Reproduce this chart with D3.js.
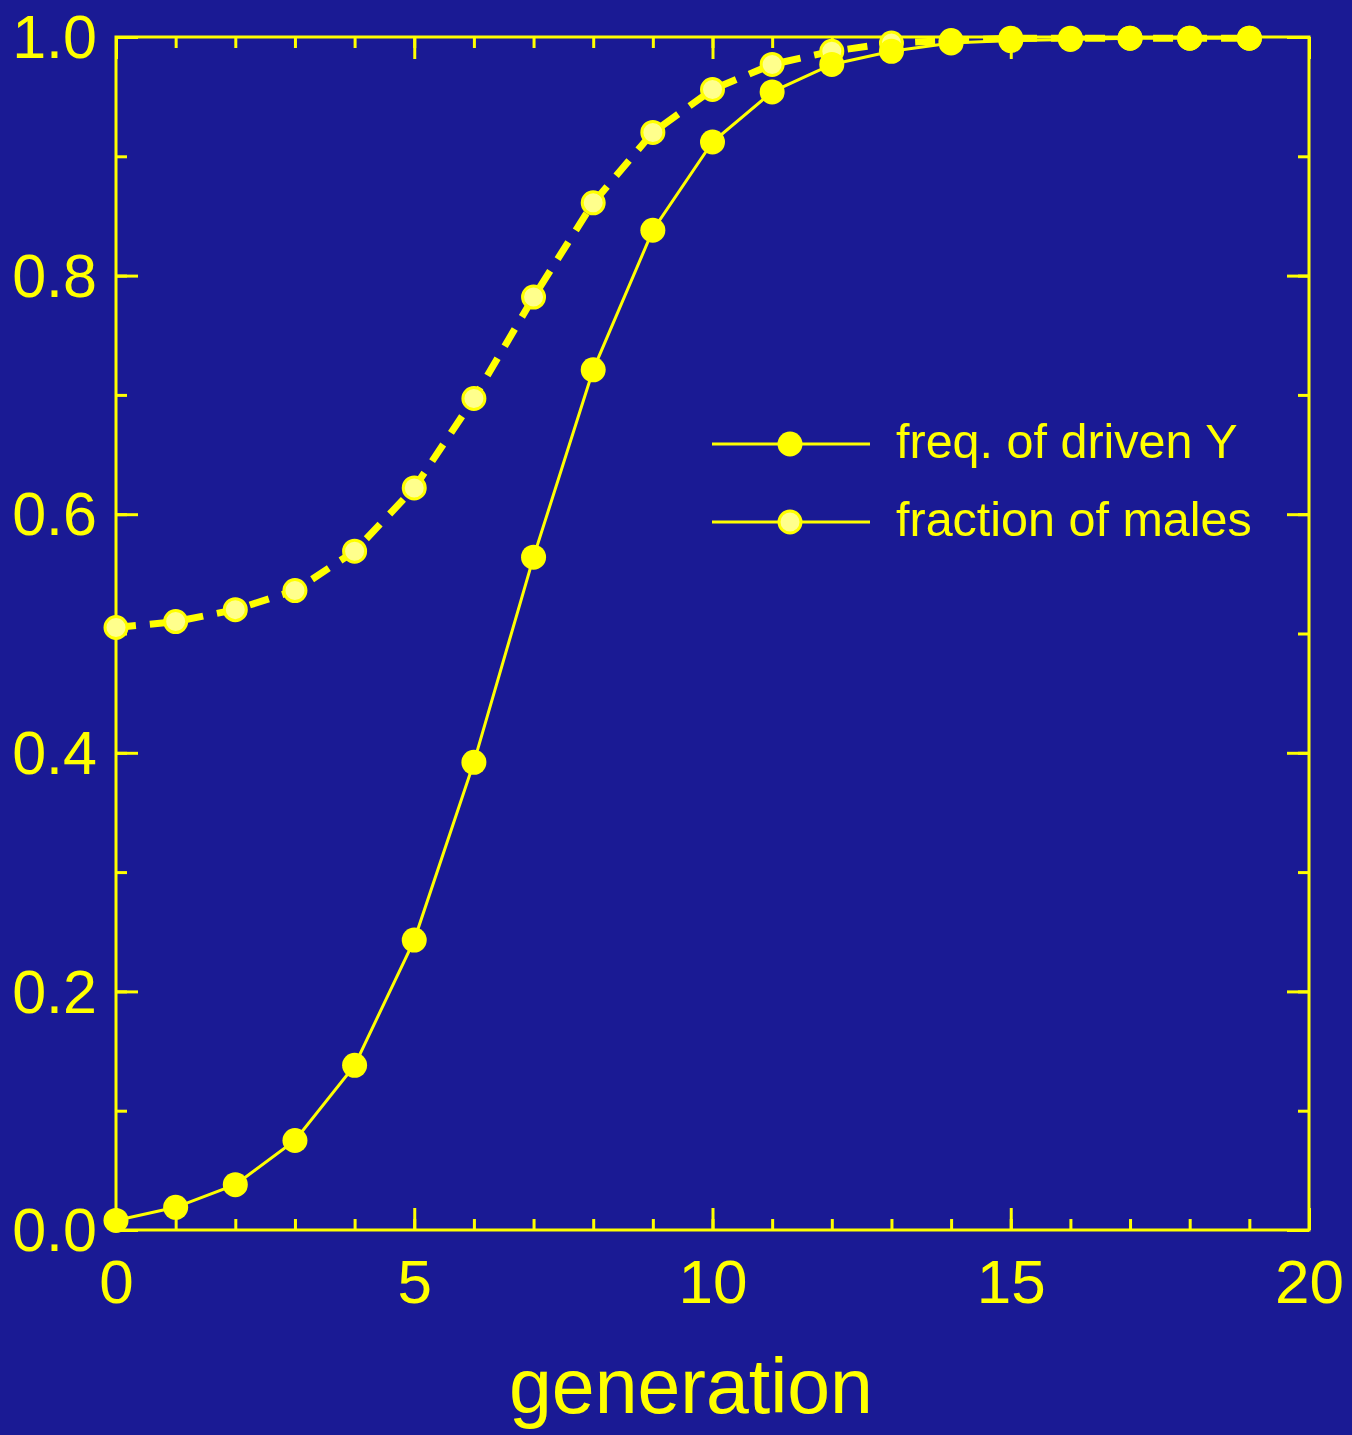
<!DOCTYPE html>
<html>
<head>
<meta charset="utf-8">
<script src="https://cdn.jsdelivr.net/npm/d3@7.9.0/dist/d3.min.js"></script>
<style>
  html, body { margin: 0; padding: 0; background: #1a1a94; }
  svg text { font-family: "Liberation Sans", Arial, sans-serif; fill: #ffff00; }
</style>
</head>
<body>
<svg id="chart" width="1352" height="1435"></svg>
<script>
// data
const generations = d3.range(0, 20);
const drivenY = [0.008, 0.019, 0.038, 0.075, 0.138, 0.243, 0.392, 0.564, 0.721, 0.838,
                 0.912, 0.954, 0.977, 0.988, 0.995, 0.997, 0.998, 0.999, 0.999, 0.999];
const males = [0.505, 0.510, 0.520, 0.536, 0.569, 0.622, 0.697, 0.782, 0.861, 0.920,
               0.956, 0.977, 0.988, 0.995, 0.997, 0.999, 0.999, 0.999, 0.999, 0.999];
const xTicks = [0, 5, 10, 15, 20];
const yTicks = [0, 0.2, 0.4, 0.6, 0.8, 1.0];
const legendLabels = ["freq. of driven Y", "fraction of males"];

const yellow = "#ffff00";
const paleYellow = "#ffff8c";

const svg = d3.select("#chart");
const plotL = 116, plotR = 1309, plotT = 37, plotB = 1230;

const x = d3.scaleLinear().domain([0, 20]).range([plotL, plotR]);
const y = d3.scaleLinear().domain([0, 1]).range([plotB, plotT]);

// axes on all four sides, ticks pointing inward
function styleAxis(g) {
  g.select(".domain").remove();
  g.selectAll(".tick line").attr("stroke", yellow).attr("stroke-width", 3);
}

const minorX = d3.range(0, 21);
const minorY = d3.range(0, 11).map(d => d / 10);

// minor ticks
svg.append("g").attr("transform", `translate(0,${plotB})`)
  .call(d3.axisBottom(x).tickValues(minorX).tickSize(-11).tickFormat(""))
  .call(styleAxis);
svg.append("g").attr("transform", `translate(0,${plotT})`)
  .call(d3.axisTop(x).tickValues(minorX).tickSize(-11).tickFormat(""))
  .call(styleAxis);
svg.append("g").attr("transform", `translate(${plotL},0)`)
  .call(d3.axisLeft(y).tickValues(minorY).tickSize(-11).tickFormat(""))
  .call(styleAxis);
svg.append("g").attr("transform", `translate(${plotR},0)`)
  .call(d3.axisRight(y).tickValues(minorY).tickSize(-11).tickFormat(""))
  .call(styleAxis);

// major ticks + labels
svg.append("g").attr("transform", `translate(0,${plotB})`)
  .call(d3.axisBottom(x).tickValues(xTicks).tickSize(-22).tickPadding(29).tickFormat(d3.format("d")))
  .call(styleAxis)
  .call(g => g.selectAll("text").attr("font-size", 62).attr("dy", "0.71em"));
svg.append("g").attr("transform", `translate(0,${plotT})`)
  .call(d3.axisTop(x).tickValues(xTicks).tickSize(-22).tickFormat(""))
  .call(styleAxis);
svg.append("g").attr("transform", `translate(${plotL},0)`)
  .call(d3.axisLeft(y).tickValues(yTicks).tickSize(-22).tickPadding(19).tickFormat(d3.format(".1f")))
  .call(styleAxis)
  .call(g => g.selectAll("text").attr("font-size", 61).attr("dy", "0.34em"));
svg.append("g").attr("transform", `translate(${plotR},0)`)
  .call(d3.axisRight(y).tickValues(yTicks).tickSize(-22).tickFormat(""))
  .call(styleAxis);

// frame
svg.append("rect")
  .attr("x", plotL).attr("y", plotT)
  .attr("width", plotR - plotL).attr("height", plotB - plotT)
  .attr("fill", "none").attr("stroke", yellow).attr("stroke-width", 3);

// lines
const line = d3.line().x((d, i) => x(generations[i])).y(d => y(d));

svg.append("path").datum(males)
  .attr("d", line).attr("fill", "none")
  .attr("stroke", yellow).attr("stroke-width", 7).attr("stroke-dasharray", "20,14");

svg.append("path").datum(drivenY)
  .attr("d", line).attr("fill", "none")
  .attr("stroke", yellow).attr("stroke-width", 3);

// markers
svg.append("g").selectAll("circle").data(males).join("circle")
  .attr("cx", (d, i) => x(generations[i])).attr("cy", d => y(d))
  .attr("r", 11).attr("fill", paleYellow).attr("stroke", yellow).attr("stroke-width", 3);

svg.append("g").selectAll("circle").data(drivenY).join("circle")
  .attr("cx", (d, i) => x(generations[i])).attr("cy", d => y(d))
  .attr("r", 12.5).attr("fill", yellow);

// x axis title
svg.append("text")
  .attr("x", 691).attr("y", 1413)
  .attr("text-anchor", "middle").attr("font-size", 77)
  .text("generation");

// legend
const legend = svg.append("g");
legendLabels.forEach((label, i) => {
  const ly = 444 + i * 78;
  legend.append("line")
    .attr("x1", 712).attr("x2", 870).attr("y1", ly).attr("y2", ly)
    .attr("stroke", yellow).attr("stroke-width", 3);
  legend.append("circle")
    .attr("cx", 790).attr("cy", ly)
    .attr("r", i === 0 ? 12.5 : 11)
    .attr("fill", i === 0 ? yellow : paleYellow)
    .attr("stroke", yellow).attr("stroke-width", i === 0 ? 0 : 3);
  legend.append("text")
    .attr("x", 896).attr("y", ly + 14)
    .attr("font-size", 48.5)
    .text(label);
});
</script>
</body>
</html>
